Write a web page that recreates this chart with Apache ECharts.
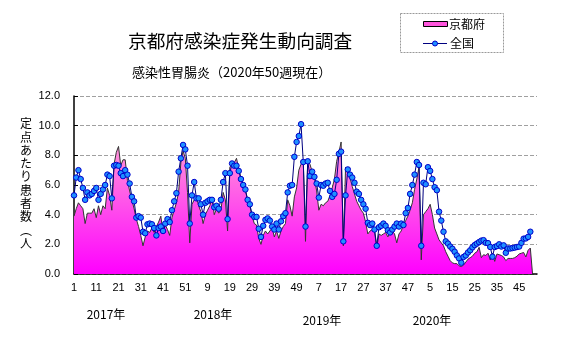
<!DOCTYPE html>
<html>
<head>
<meta charset="utf-8">
<script src="https://cdn.jsdelivr.net/npm/echarts@6/dist/echarts.min.js"></script>
<style>
html,body{margin:0;padding:0;background:#fff;}
#c{width:567px;height:339px;}
</style>
</head>
<body>
<div id="c"></div>
<script>
// ---- data ----
var weeksPerYear = [52, 52, 52, 53];
var years = ['2017年', '2018年', '2019年', '2020年'];
var yTicks = [0, 2, 4, 6, 8, 10, 12];

// 全国 (2017w1 .. 2020w50)
var national2017 = [5.3,6.5,7.0,6.4,5.8,5.0,5.5,5.3,5.4,5.6,5.8,5.0,5.4,5.7,6.0,6.7,6.6,5.1,7.3,7.35,7.3,6.8,6.6,7.0,6.7,6.1,5.2,4.9,3.8,3.9,3.8,2.85,2.75,3.35,3.4,3.35,3.1,2.6,3.1,3.2,2.9,3.4,3.7,3.5,4.3,4.9,5.45,6.9,7.8,8.7,8.4,7.3];
var national2018 = [3.4,5.3,6.2,5.1,5.1,4.7,4.0,4.8,4.9,5.0,5.0,4.5,4.6,4.4,5.0,6.2,6.8,3.7,6.8,7.45,7.3,7.3,6.95,6.4,6.0,5.7,5.0,4.7,4.0,3.85,3.85,3.05,2.5,3.25,3.65,3.75,3.6,3.2,3.0,3.4,3.0,3.55,3.9,4.1,5.5,5.95,6.0,7.9,8.9,9.3,10.1,7.55];
var national2019 = [3.2,7.6,6.6,6.9,6.55,6.1,5.15,6.0,5.95,6.1,6.15,5.6,5.2,5.4,6.35,8.1,8.25,2.2,5.3,7.05,6.7,6.5,6.15,5.55,5.4,5.0,4.7,4.4,3.45,3.3,3.4,3.0,1.9,3.15,3.25,3.4,3.25,2.95,2.8,3.0,3.2,3.4,3.2,3.4,3.3,4.1,4.45,5.4,6.0,6.7,7.55,7.35];
var national2020 = [1.9,6.15,6.05,7.2,6.95,6.4,5.85,5.65,4.2,3.6,2.85,2.2,2.05,1.85,1.7,1.5,1.25,1.05,0.76,1.15,1.25,1.45,1.6,1.8,1.95,2.05,2.15,2.25,2.28,2.1,2.08,1.82,1.17,1.82,1.88,2.0,1.85,1.93,1.43,1.72,1.72,1.75,1.78,1.82,1.85,2.1,2.38,2.4,2.5,2.85];

// 京都府 (2017w1 .. 2020w50, then the empty week 51 drawn as 0)
var kyoto2017 = [3.9,4.4,4.8,4.6,4.4,3.4,4.1,4.1,4.1,4.4,3.8,4.6,4.0,4.6,4.4,5.8,5.3,4.3,7.4,8.2,8.6,7.3,7.7,7.7,6.3,5.6,5.0,4.4,3.7,3.2,2.6,1.9,2.5,2.9,2.8,3.1,2.8,3.2,3.5,3.9,2.8,3.3,3.0,2.6,3.8,4.3,4.8,5.5,7.5,8.3,7.8,5.5];
var kyoto2018 = [2.1,4.7,5.0,5.2,4.6,4.2,3.4,4.0,4.3,4.6,5.1,4.0,4.4,4.1,4.3,5.5,5.0,2.9,7.2,7.4,7.5,7.8,7.1,6.5,6.1,5.6,5.0,4.6,3.9,3.4,3.3,2.4,2.0,2.6,2.9,2.7,2.9,3.1,2.5,2.9,2.4,2.9,3.2,3.4,5.0,4.6,3.9,5.2,5.8,7.0,7.4,7.6];
var kyoto2019 = [2.2,7.6,7.4,6.9,6.5,5.6,4.3,4.7,4.6,4.8,4.9,5.3,5.8,6.4,7.6,8.2,8.9,1.9,7.2,6.9,6.5,5.9,5.4,4.9,4.6,4.3,4.1,3.5,2.7,2.9,3.0,2.9,1.75,2.7,2.6,2.7,2.8,2.5,2.8,2.9,2.7,2.1,2.7,2.9,3.3,3.6,3.9,4.3,4.8,5.7,6.4,7.2];
var kyoto2020 = [0.95,4.0,4.2,4.4,4.7,4.0,3.1,2.7,2.3,2.1,1.9,1.5,1.2,0.9,0.75,0.7,0.7,0.55,0.5,0.6,0.8,1.0,1.1,1.2,1.4,1.5,1.8,1.1,1.3,1.25,1.4,0.95,1.4,0.85,1.35,1.3,1.25,1.15,0.9,1.05,1.05,1.05,1.1,1.2,1.35,1.4,1.45,1.15,1.6,1.75,0];

// ---- build ----
var weekLabels = [];
weeksPerYear.forEach(function (n) { for (var w = 1; w <= n; w++) weekLabels.push(String(w)); });
var national = national2017.concat(national2018, national2019, national2020);
var kyoto = kyoto2017.concat(kyoto2018, kyoto2019, kyoto2020);

var FONT = '"Noto Sans CJK JP", "Noto Sans", sans-serif';
var NUMFONT = '"Liberation Sans", Arial, sans-serif';

var chart = echarts.init(document.getElementById('c'), null, {renderer: 'canvas'});
var gridLeft = 74, gridRight = 30, gridTop = 96, gridBottom = 65;

var yearPos = [[106, 314], [213, 314], [322, 320], [432, 320]];
var graphics = [
  // legend box
  {type: 'rect', shape: {x: 400.5, y: 13.5, width: 103, height: 39}, style: {fill: '#fff', stroke: '#999', lineWidth: 1, lineDash: [2, 1]}},
  {type: 'rect', shape: {x: 423.5, y: 21.5, width: 24, height: 5}, style: {fill: '#ff55dd', stroke: '#000', lineWidth: 1}},
  {type: 'text', x: 449, y: 24, style: {text: '京都府', font: '12px ' + FONT, fill: '#000', textVerticalAlign: 'middle'}},
  {type: 'line', shape: {x1: 423, y1: 43.5, x2: 447, y2: 43.5}, style: {stroke: '#000080', lineWidth: 1}},
  {type: 'circle', shape: {cx: 435, cy: 43.5, r: 2.5}, style: {fill: '#1e90ff', stroke: '#0000cc', lineWidth: 1}},
  {type: 'text', x: 450, y: 43, style: {text: '全国', font: '12px ' + FONT, fill: '#000', textVerticalAlign: 'middle'}},
  // y axis title (vertical)
  {type: 'text', x: 26, y: 117, style: {text: '定\n点\nあ\nた\nり\n患\n者\n数\n︵\n人', font: '12px ' + FONT, fill: '#000', textAlign: 'center', lineHeight: 13.3}}
];
years.forEach(function (t, i) {
  graphics.push({type: 'text', x: yearPos[i][0], y: yearPos[i][1], style: {text: t, font: '12px ' + FONT, fill: '#000', textAlign: 'center', textVerticalAlign: 'middle'}});
});

chart.setOption({
  animation: false,
  backgroundColor: '#fff',
  title: [
    {text: '京都府感染症発生動向調査', left: 123, top: 27, textStyle: {fontSize: 18.7, fontWeight: 'normal', color: '#000', fontFamily: FONT}},
    {text: '感染性胃腸炎（2020年50週現在）', left: 127, top: 61, textStyle: {fontSize: 13, fontWeight: 'normal', color: '#000', fontFamily: FONT}}
  ],
  grid: {left: gridLeft, right: gridRight, top: gridTop, bottom: gridBottom, containLabel: false},
  xAxis: {
    type: 'category', data: weekLabels, boundaryGap: false,
    axisLine: {lineStyle: {color: '#000', width: 1.5}},
    axisTick: {inside: true, interval: 4, length: 4, lineStyle: {color: '#000'}},
    axisLabel: {interval: 9, fontSize: 11, color: '#000', margin: 8, fontFamily: NUMFONT},
    splitLine: {show: false}
  },
  yAxis: {
    type: 'value', min: yTicks[0], max: yTicks[yTicks.length - 1], interval: 2,
    axisLine: {show: true, lineStyle: {color: '#000', width: 1.5}},
    axisTick: {show: true, inside: true, length: 4, lineStyle: {color: '#000'}},
    axisLabel: {formatter: function (v) { return v.toFixed(1); }, fontSize: 11, color: '#000', margin: 14, fontFamily: NUMFONT},
    splitLine: {show: true, lineStyle: {color: '#a0a0a0', type: [4, 2], width: 1}}
  },
  series: [
    {
      name: '京都府', type: 'line', data: kyoto, symbol: 'none', smooth: false,
      lineStyle: {color: '#333', width: 1},
      areaStyle: {opacity: 1, color: new echarts.graphic.LinearGradient(0, 0, 0, 1, [
        {offset: 0, color: '#ff9ad8'}, {offset: 1, color: '#ff00ff'}])},
      z: 2
    },
    {
      name: '全国', type: 'line', data: national, symbol: 'circle', symbolSize: 5.5, showAllSymbol: true,
      lineStyle: {color: '#000080', width: 1},
      itemStyle: {color: '#1e90ff', borderColor: '#0000cc', borderWidth: 1},
      z: 3
    }
  ],
  graphic: graphics
});
</script>
</body>
</html>
